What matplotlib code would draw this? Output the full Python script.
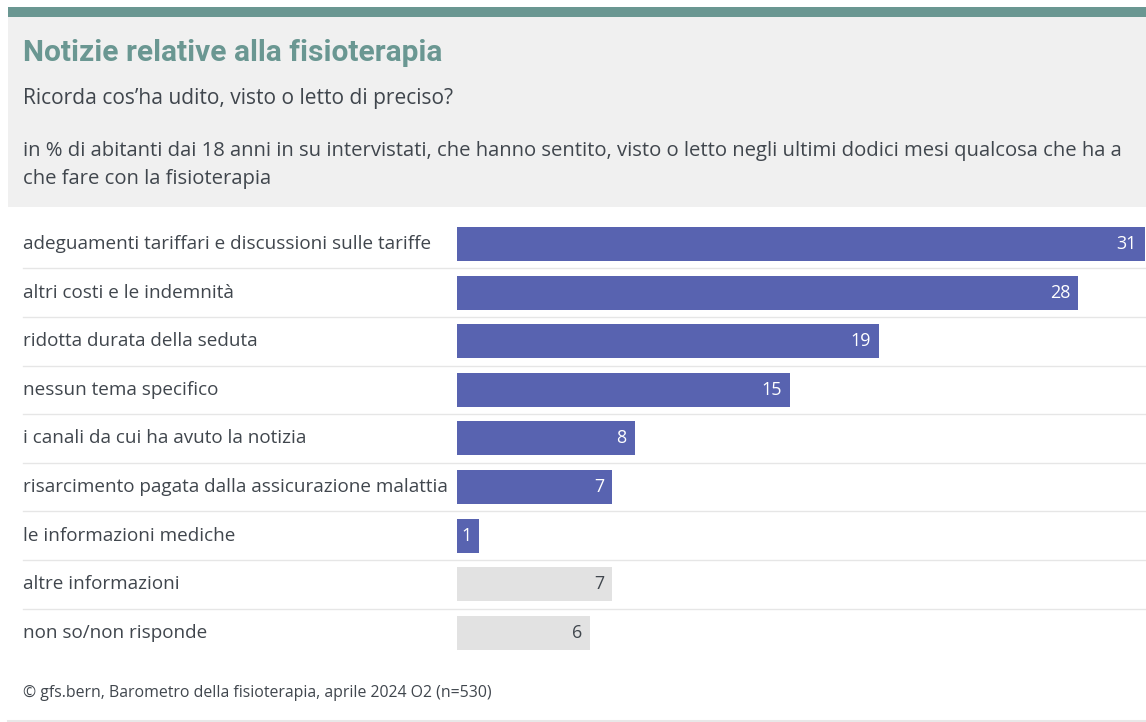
import matplotlib
matplotlib.use("Agg")
import matplotlib.pyplot as plt
from matplotlib.patches import Rectangle
from matplotlib.lines import Line2D

categories = [
    "adeguamenti tariffari e discussioni sulle tariffe",
    "altri costi e le indemnità",
    "ridotta durata della seduta",
    "nessun tema specifico",
    "i canali da cui ha avuto la notizia",
    "risarcimento pagata dalla assicurazione malattia",
    "le informazioni mediche",
    "altre informazioni",
    "non so/non risponde",
]
values = [31, 28, 19, 15, 8, 7, 1, 7, 6]
is_other = [False, False, False, False, False, False, False, True, True]

title = "Notizie relative alla fisioterapia"
subtitle = "Ricorda cos’ha udito, visto o letto di preciso?"
desc1 = ("in % di abitanti dai 18 anni in su intervistati, che hanno sentito, visto o letto "
         "negli ultimi dodici mesi qualcosa che ha a")
desc2 = "che fare con la fisioterapia"
footer = "© gfs.bern, Barometro della fisioterapia, aprile 2024 O2 (n=530)"

W, H = 1146, 722
FONT = "Open Sans"
TFONT = "Roboto"
BLUE = "#5863b0"
GREY = "#e2e2e2"
TEAL = "#6a9792"
TXT = "#40464d"

fig = plt.figure(figsize=(W / 100, H / 100), dpi=100)
fig.patch.set_facecolor("white")

def fx(px):
    return px / W

def fy(py):
    return 1 - py / H

renderer = fig.canvas.get_renderer()

def fit_text(x, y, s, target_w, size0=16, family=FONT, **kw):
    t = fig.text(fx(x), fy(y), s, fontsize=size0, family=family, **kw)
    w = t.get_window_extent(renderer=renderer).width
    t.set_fontsize(size0 * target_w / w)
    return t

# header
fig.patches.append(Rectangle((fx(8), fy(207)), fx(W - 8), 190 / H, transform=fig.transFigure,
                             facecolor="#f0f0f0", edgecolor="none", zorder=0))
fig.patches.append(Rectangle((fx(8), fy(17)), fx(W - 8), 10 / H, transform=fig.transFigure,
                             facecolor=TEAL, edgecolor="none", zorder=1))

fit_text(23, 61, title, 417, size0=20, family=TFONT, color=TEAL, fontweight="bold", va="baseline")
fit_text(23, 104, subtitle, 429, size0=13, color=TXT, va="baseline")
d1 = fit_text(23, 156, desc1, 1092, size0=13, color=TXT, va="baseline")
fig.text(fx(23), fy(184), desc2, family=FONT, color=TXT, va="baseline",
         fontsize=d1.get_fontsize())

# rows geometry
row0, step = 244.0, 48.6
n = len(categories)
top_px = row0 - step / 2
bot_px = row0 + step * (n - 0.5)

ax_full = fig.add_axes([0, fy(bot_px), 1, (bot_px - top_px) / H])
ax_full.set_xlim(0, W)
ax_full.set_ylim(n - 0.5, -0.5)
ax_full.axis("off")

x0, x31 = 457, 1145
ax = fig.add_axes([fx(x0), fy(bot_px), fx(x31 - x0), (bot_px - top_px) / H])
ax.set_xlim(0, 31)
ax.set_ylim(n - 0.5, -0.5)
ax.axis("off")
ax.patch.set_alpha(0)

ypos = list(range(n))
colors = [GREY if o else BLUE for o in is_other]
ax.barh(ypos, values, height=0.70, color=colors, edgecolor="none", zorder=2)

# separators
for i in range(n - 1):
    ax_full.plot([23, W], [i + 0.5, i + 0.5], color="#e6e6e6", lw=1.0, zorder=1)

# labels
lab = None
for i, c in enumerate(categories):
    t = ax_full.text(23, i, c, family=FONT, fontsize=12, color=TXT, va="center", ha="left")
    if i == 0:
        lab = t
w0 = lab.get_window_extent(renderer=renderer).width
lab_size = 12 * 405 / w0
for t in ax_full.texts:
    t.set_fontsize(lab_size)

pad = 8 * 31 / (x31 - x0)
for i, (v, o) in enumerate(zip(values, is_other)):
    ax.text(v - pad, i, str(v), family=FONT, fontsize=lab_size * 0.95,
            color=TXT if o else "white", va="center", ha="right", zorder=3)

fit_text(23, 697, footer, 468, size0=11, color=TXT, va="baseline")
fig.lines.append(Line2D([fx(8), 1], [fy(720.5), fy(720.5)], transform=fig.transFigure,
                        color="#e8e8e8", lw=1.5))

fig.savefig("out.png", dpi=100, facecolor="white")
